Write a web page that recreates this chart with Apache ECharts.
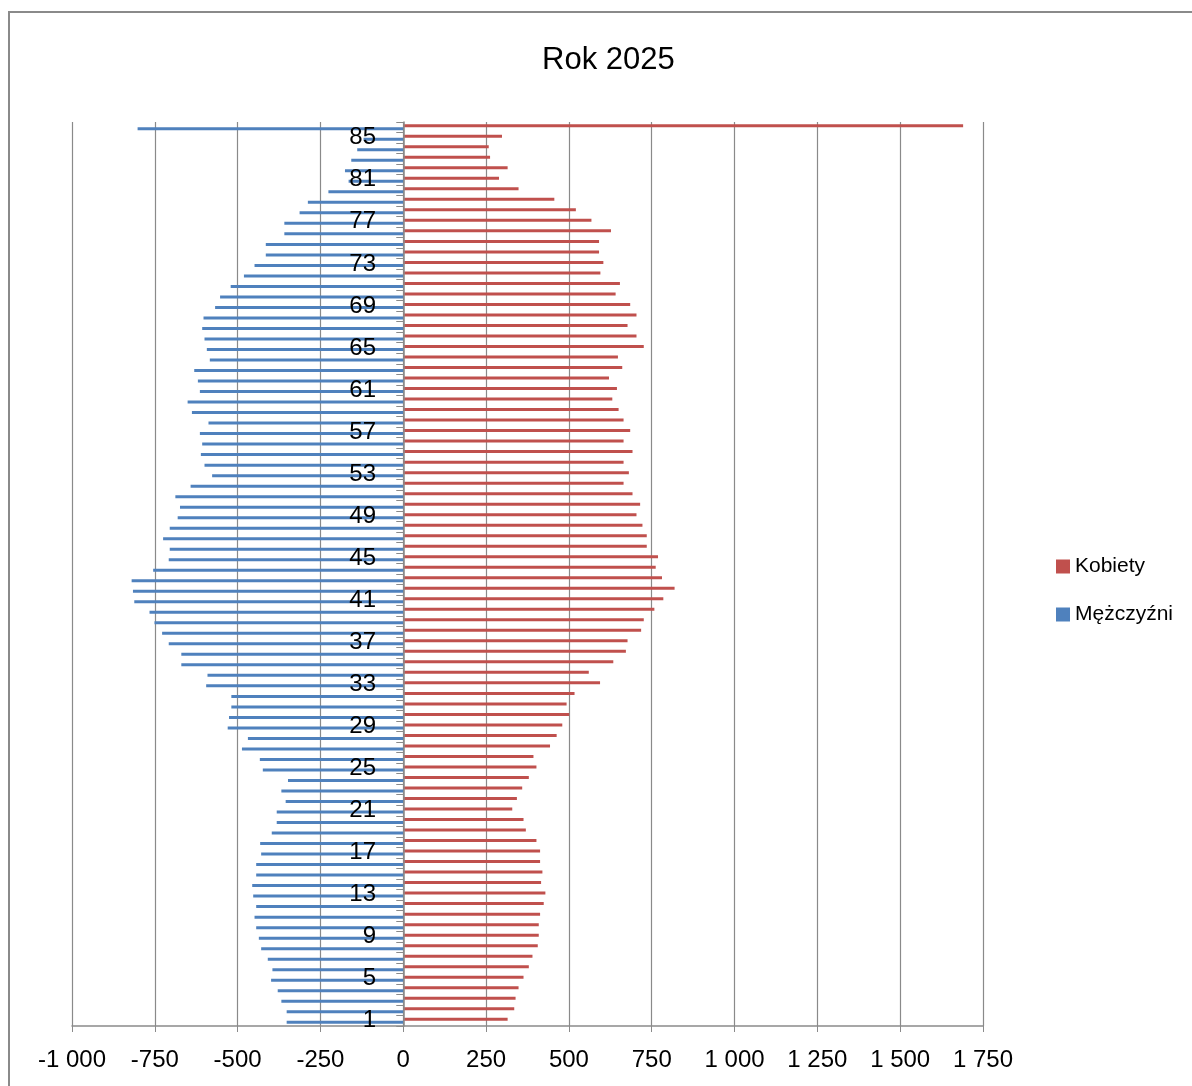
<!DOCTYPE html>
<html lang="pl" style="height: 100%">
<head>
  <meta charset="utf-8">
</head>
<body style="height: 100%; margin: 0; background: #fff">
  <div id="container" style="width: 1192px; height: 1086px"></div>

  <script type="text/javascript" src="https://fastly.jsdelivr.net/npm/echarts@6.0.0/dist/echarts.min.js"></script>
  <script type="text/javascript">
    // wiek 1..86 (86 = najstarsza grupa zbiorcza)
    var ages = [];
    for (var i = 1; i <= 86; i++) ages.push(String(i));

    var kobiety = [
      315, 335, 339, 348, 363, 379, 390, 406, 409, 409,
      413, 424, 429, 416, 420, 413, 413, 402, 370, 363,
      329, 343, 359, 379, 402, 393, 443, 463, 480, 501,
      493, 517, 594, 560, 634, 672, 677, 718, 726, 758,
      785, 819, 781, 762, 769, 735, 735, 722, 704, 715,
      692, 665, 681, 665, 692, 665, 685, 665, 650, 631,
      645, 621, 661, 648, 726, 704, 677, 704, 685, 641,
      654, 595, 604, 591, 591, 627, 568, 521, 456, 348,
      289, 315, 262, 258, 298, 1690
    ];

    var mezczyzni = [
      -352, -352, -368, -379, -399, -395, -409, -429, -436, -444,
      -449, -444, -453, -456, -444, -444, -429, -432, -397, -382,
      -382, -355, -368, -348, -424, -433, -487, -469, -530, -526,
      -519, -519, -595, -591, -670, -670, -708, -728, -751, -766,
      -812, -816, -820, -755, -708, -705, -725, -705, -681, -674,
      -688, -642, -577, -600, -611, -607, -614, -588, -638, -651,
      -614, -620, -631, -584, -593, -600, -607, -603, -568, -553,
      -521, -481, -449, -415, -415, -359, -359, -313, -288, -226,
      -165, -176, -157, -139, -120, -802
    ];

    var font = 'Liberation Sans';

    function fmt(v) {
      var s = String(Math.abs(v));
      if (s.length > 3) s = s.slice(0, s.length - 3) + ' ' + s.slice(s.length - 3);
      return (v < 0 ? '-' : '') + s;
    }

    var dom = document.getElementById('container');
    var myChart = echarts.init(dom, null, { renderer: 'canvas' });

    var option = {
      animation: false,
      backgroundColor: '#fff',
      textStyle: { fontFamily: font },
      graphic: [
        {
          type: 'rect',
          shape: { x: 9, y: 12, width: 1200, height: 1100 },
          style: { fill: 'none', stroke: '#8a8a8a', lineWidth: 2 },
          silent: true
        }
      ],
      title: {
        text: 'Rok 2025',
        left: 537,
        top: 40,
        textStyle: { fontFamily: font, fontSize: 31, fontWeight: 'normal', color: '#000' }
      },
      legend: {
        orient: 'vertical',
        left: 1051,
        top: 551,
        icon: 'rect',
        itemWidth: 14,
        itemHeight: 14,
        itemGap: 27,
        textStyle: { fontFamily: font, fontSize: 21, color: '#000' },
        data: ['Kobiety', 'Mężczyźni']
      },
      grid: {
        left: 72,
        right: 209,
        top: 122,
        bottom: 60
      },
      xAxis: {
        type: 'value',
        min: -1000,
        max: 1750,
        interval: 250,
        axisLine: { show: true, lineStyle: { color: '#8a8a8a', width: 1.5 } },
        axisTick: { show: true, length: 6, lineStyle: { color: '#8a8a8a' } },
        axisLabel: {
          margin: 22,
          fontFamily: font,
          fontSize: 24,
          color: '#000',
          formatter: fmt
        },
        splitLine: { show: true, lineStyle: { color: '#8a8a8a', width: 1.2 } }
      },
      yAxis: {
        type: 'category',
        data: ages,
        z: 5,
        axisLine: { show: true, onZero: true, lineStyle: { color: '#8a8a8a', width: 1.5 } },
        axisTick: { show: true, interval: 0, length: 7, lineStyle: { color: '#8a8a8a' } },
        axisLabel: {
          interval: 3,
          margin: -304,
          padding: [5, 0, 0, 0],
          fontFamily: font,
          fontSize: 24,
          color: '#000'
        },
        splitLine: { show: false }
      },
      series: [
        {
          name: 'Kobiety',
          type: 'bar',
          data: kobiety,
          barWidth: 3,
          barGap: '0%',
          itemStyle: { color: '#C0504D' }
        },
        {
          name: 'Mężczyźni',
          type: 'bar',
          data: mezczyzni,
          barWidth: 3,
          itemStyle: { color: '#4F81BD' }
        }
      ]
    };

    myChart.setOption(option);
    window.addEventListener('resize', myChart.resize);
  </script>
</body>
</html>
